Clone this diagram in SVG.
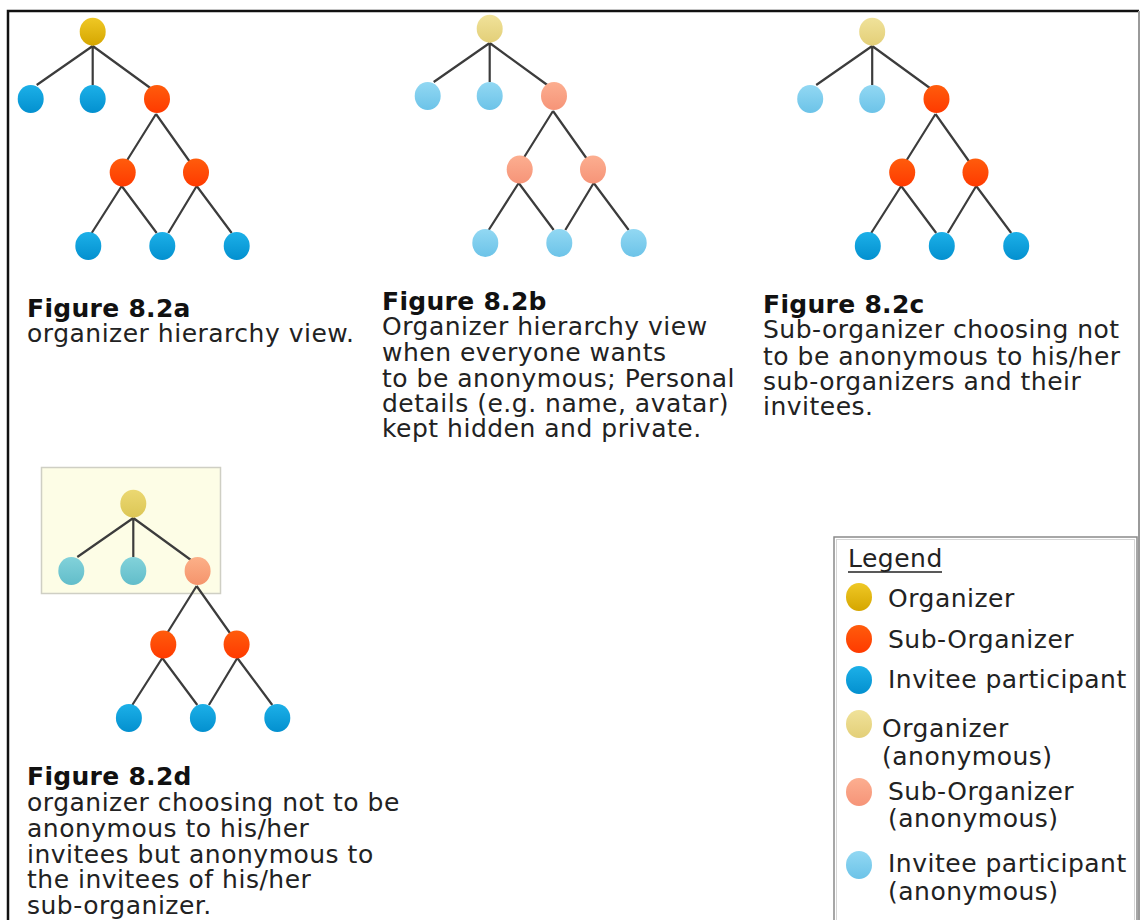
<svg xmlns="http://www.w3.org/2000/svg" width="1141" height="920" viewBox="0 0 1141 920">
<defs>
<linearGradient id="gOrg" x1="0" y1="0" x2="0" y2="1"><stop offset="0" stop-color="#efc825"/><stop offset="1" stop-color="#d5a600"/></linearGradient>
<linearGradient id="gSub" x1="0" y1="0" x2="0" y2="1"><stop offset="0" stop-color="#ff5c0c"/><stop offset="1" stop-color="#ff3a00"/></linearGradient>
<linearGradient id="gInv" x1="0" y1="0" x2="0" y2="1"><stop offset="0" stop-color="#1cb0e8"/><stop offset="1" stop-color="#0390cf"/></linearGradient>
<linearGradient id="gOrgA" x1="0" y1="0" x2="0" y2="1"><stop offset="0" stop-color="#f0e29a"/><stop offset="1" stop-color="#e3cf78"/></linearGradient>
<linearGradient id="gSubA" x1="0" y1="0" x2="0" y2="1"><stop offset="0" stop-color="#fcae90"/><stop offset="1" stop-color="#f69478"/></linearGradient>
<linearGradient id="gInvA" x1="0" y1="0" x2="0" y2="1"><stop offset="0" stop-color="#92d8f3"/><stop offset="1" stop-color="#6cc3e8"/></linearGradient>
<linearGradient id="gOrgD" x1="0" y1="0" x2="0" y2="1"><stop offset="0" stop-color="#ebd872"/><stop offset="1" stop-color="#dcc655"/></linearGradient>
<linearGradient id="gInvD" x1="0" y1="0" x2="0" y2="1"><stop offset="0" stop-color="#82d2da"/><stop offset="1" stop-color="#62bdca"/></linearGradient>
<linearGradient id="gSubD" x1="0" y1="0" x2="0" y2="1"><stop offset="0" stop-color="#fcb088"/><stop offset="1" stop-color="#f5946c"/></linearGradient>
</defs>
<style>
.t{font-family:"DejaVu Sans",Verdana,sans-serif;font-size:25px;letter-spacing:0.5px;fill:#222}
.b{font-weight:bold;fill:#111;letter-spacing:0.3px}
.edge{stroke:#3c3c3c;stroke-width:2.2;fill:none}
.org{fill:url(#gOrg)}
.sub{fill:url(#gSub)}
.inv{fill:url(#gInv)}
.orgA{fill:url(#gOrgA)}
.subA{fill:url(#gSubA)}
.invA{fill:url(#gInvA)}
.orgD{fill:url(#gOrgD)}
.invD{fill:url(#gInvD)}
.subD{fill:url(#gSubD)}
</style>
<rect x="0" y="0" width="1141" height="920" fill="#ffffff"/>
<path d="M8,920 V11 H1139" fill="none" stroke="#111" stroke-width="2.5"/>
<path d="M1139,11 V920" fill="none" stroke="#9a9a9a" stroke-width="2"/>

<rect id="box-d" x="41.5" y="467.5" width="179" height="126" fill="#fdfde6" stroke="#cfcfc4" stroke-width="1.5"/>

<g id="connectors">
  <g id="edges-a">
    <path class="edge" d="M92.7,46 L36.7,85 M92.7,46 L92.7,85 M92.7,46 L151.7,89 M156,114 L126,162 M156,114 L190,162 M121.7,186 L91.7,233 M121.7,186 L156.7,233 M196.7,186 L168.3,233 M196.7,186 L231.7,233"/>
  </g>
  <g id="edges-b" transform="translate(397,-3)">
    <path class="edge" d="M92.7,46 L36.7,85 M92.7,46 L92.7,85 M92.7,46 L151.7,89 M156,114 L126,162 M156,114 L190,162 M121.7,186 L91.7,233 M121.7,186 L156.7,233 M196.7,186 L168.3,233 M196.7,186 L231.7,233"/>
  </g>
  <g id="edges-c" transform="translate(779.5,0)">
    <path class="edge" d="M92.7,46 L36.7,85 M92.7,46 L92.7,85 M92.7,46 L151.7,89 M156,114 L126,162 M156,114 L190,162 M121.7,186 L91.7,233 M121.7,186 L156.7,233 M196.7,186 L168.3,233 M196.7,186 L231.7,233"/>
  </g>
  <g id="edges-d" transform="translate(40.6,472)">
    <path class="edge" d="M92.7,46 L36.7,85 M92.7,46 L92.7,85 M92.7,46 L151.7,89 M156,114 L126,162 M156,114 L190,162 M121.7,186 L91.7,233 M121.7,186 L156.7,233 M196.7,186 L168.3,233 M196.7,186 L231.7,233"/>
  </g>
</g>

<g id="figure-a">
  <g id="a-organizer"><ellipse class="org" cx="92.7" cy="31.7" rx="13" ry="14"/></g>
  <g id="a-invitee-1"><ellipse class="inv" cx="30.7" cy="99" rx="13" ry="14"/></g>
  <g id="a-invitee-2"><ellipse class="inv" cx="92.7" cy="99" rx="13" ry="14"/></g>
  <g id="a-sub-1"><ellipse class="sub" cx="157" cy="99" rx="13" ry="14"/></g>
  <g id="a-sub-2"><ellipse class="sub" cx="122.7" cy="172.5" rx="13" ry="14"/></g>
  <g id="a-sub-3"><ellipse class="sub" cx="196" cy="172.5" rx="13" ry="14"/></g>
  <g id="a-invitee-3"><ellipse class="inv" cx="88.3" cy="246" rx="13" ry="14"/></g>
  <g id="a-invitee-4"><ellipse class="inv" cx="162.3" cy="246" rx="13" ry="14"/></g>
  <g id="a-invitee-5"><ellipse class="inv" cx="236.7" cy="246" rx="13" ry="14"/></g>
</g>

<g id="figure-b" transform="translate(397,-3)">
  <g id="b-organizer"><ellipse class="orgA" cx="92.7" cy="31.7" rx="13" ry="14"/></g>
  <g id="b-invitee-1"><ellipse class="invA" cx="30.7" cy="99" rx="13" ry="14"/></g>
  <g id="b-invitee-2"><ellipse class="invA" cx="92.7" cy="99" rx="13" ry="14"/></g>
  <g id="b-sub-1"><ellipse class="subA" cx="157" cy="99" rx="13" ry="14"/></g>
  <g id="b-sub-2"><ellipse class="subA" cx="122.7" cy="172.5" rx="13" ry="14"/></g>
  <g id="b-sub-3"><ellipse class="subA" cx="196" cy="172.5" rx="13" ry="14"/></g>
  <g id="b-invitee-3"><ellipse class="invA" cx="88.3" cy="246" rx="13" ry="14"/></g>
  <g id="b-invitee-4"><ellipse class="invA" cx="162.3" cy="246" rx="13" ry="14"/></g>
  <g id="b-invitee-5"><ellipse class="invA" cx="236.7" cy="246" rx="13" ry="14"/></g>
</g>

<g id="figure-c" transform="translate(779.5,0)">
  <g id="c-organizer"><ellipse class="orgA" cx="92.7" cy="31.7" rx="13" ry="14"/></g>
  <g id="c-invitee-1"><ellipse class="invA" cx="30.7" cy="99" rx="13" ry="14"/></g>
  <g id="c-invitee-2"><ellipse class="invA" cx="92.7" cy="99" rx="13" ry="14"/></g>
  <g id="c-sub-1"><ellipse class="sub" cx="157" cy="99" rx="13" ry="14"/></g>
  <g id="c-sub-2"><ellipse class="sub" cx="122.7" cy="172.5" rx="13" ry="14"/></g>
  <g id="c-sub-3"><ellipse class="sub" cx="196" cy="172.5" rx="13" ry="14"/></g>
  <g id="c-invitee-3"><ellipse class="inv" cx="88.3" cy="246" rx="13" ry="14"/></g>
  <g id="c-invitee-4"><ellipse class="inv" cx="162.3" cy="246" rx="13" ry="14"/></g>
  <g id="c-invitee-5"><ellipse class="inv" cx="236.7" cy="246" rx="13" ry="14"/></g>
</g>

<g id="figure-d" transform="translate(40.6,472)">
  <g id="d-organizer"><ellipse class="orgD" cx="92.7" cy="31.7" rx="13" ry="14"/></g>
  <g id="d-invitee-1"><ellipse class="invD" cx="30.7" cy="99" rx="13" ry="14"/></g>
  <g id="d-invitee-2"><ellipse class="invD" cx="92.7" cy="99" rx="13" ry="14"/></g>
  <g id="d-sub-1"><ellipse class="subD" cx="157" cy="99" rx="13" ry="14"/></g>
  <g id="d-sub-2"><ellipse class="sub" cx="122.7" cy="172.5" rx="13" ry="14"/></g>
  <g id="d-sub-3"><ellipse class="sub" cx="196" cy="172.5" rx="13" ry="14"/></g>
  <g id="d-invitee-3"><ellipse class="inv" cx="88.3" cy="246" rx="13" ry="14"/></g>
  <g id="d-invitee-4"><ellipse class="inv" cx="162.3" cy="246" rx="13" ry="14"/></g>
  <g id="d-invitee-5"><ellipse class="inv" cx="236.7" cy="246" rx="13" ry="14"/></g>
</g>

<g id="caption-a">
  <text class="t" x="27" y="317"><tspan class="b">Figure 8.2a</tspan><tspan x="27" y="342">organizer hierarchy view.</tspan></text>
</g>
<g id="caption-b">
  <text class="t" x="382" y="310"><tspan class="b">Figure 8.2b</tspan><tspan x="382" y="335">Organizer hierarchy view</tspan><tspan x="382" y="361">when everyone wants</tspan><tspan x="382" y="387">to be anonymous; Personal</tspan><tspan x="382" y="412">details (e.g. name, avatar)</tspan><tspan x="382" y="437">kept hidden and private.</tspan></text>
</g>
<g id="caption-c">
  <text class="t" x="763" y="313"><tspan class="b">Figure 8.2c</tspan><tspan x="763" y="338">Sub-organizer choosing not</tspan><tspan x="763" y="365">to be anonymous to his/her</tspan><tspan x="763" y="390">sub-organizers and their</tspan><tspan x="763" y="415">invitees.</tspan></text>
</g>
<g id="caption-d">
  <text class="t" x="27" y="785"><tspan class="b">Figure 8.2d</tspan><tspan x="27" y="811">organizer choosing not to be</tspan><tspan x="27" y="837">anonymous to his/her</tspan><tspan x="27" y="863">invitees but anonymous to</tspan><tspan x="27" y="888">the invitees of his/her</tspan><tspan x="27" y="914">sub-organizer.</tspan></text>
</g>

<g id="legend">
  <rect x="834" y="537" width="303" height="400" fill="#ffffff" stroke="#8a8a8a" stroke-width="1.5"/>
  <rect x="836.5" y="539.5" width="298" height="400" fill="none" stroke="#d6d6d6" stroke-width="1"/>
  <text class="t" x="848" y="567">Legend</text>
  <line x1="848" y1="572" x2="942" y2="572" stroke="#222" stroke-width="1.5"/>
  <g id="legend-organizer"><ellipse class="org" cx="859" cy="597" rx="13" ry="14"/><text class="t" x="888" y="607">Organizer</text></g>
  <g id="legend-sub"><ellipse class="sub" cx="859" cy="639" rx="13" ry="14"/><text class="t" x="888" y="648">Sub-Organizer</text></g>
  <g id="legend-invitee"><ellipse class="inv" cx="859" cy="680" rx="13" ry="14"/><text class="t" x="888" y="688">Invitee participant</text></g>
  <g id="legend-organizer-anon"><ellipse class="orgA" cx="859" cy="724" rx="13" ry="14"/><text class="t" x="882" y="737">Organizer<tspan x="882" y="765">(anonymous)</tspan></text></g>
  <g id="legend-sub-anon"><ellipse class="subA" cx="859" cy="792" rx="13" ry="14"/><text class="t" x="888" y="800">Sub-Organizer<tspan x="888" y="827">(anonymous)</tspan></text></g>
  <g id="legend-invitee-anon"><ellipse class="invA" cx="859" cy="865" rx="13" ry="14"/><text class="t" x="888" y="872">Invitee participant<tspan x="888" y="900">(anonymous)</tspan></text></g>
</g>
</svg>
